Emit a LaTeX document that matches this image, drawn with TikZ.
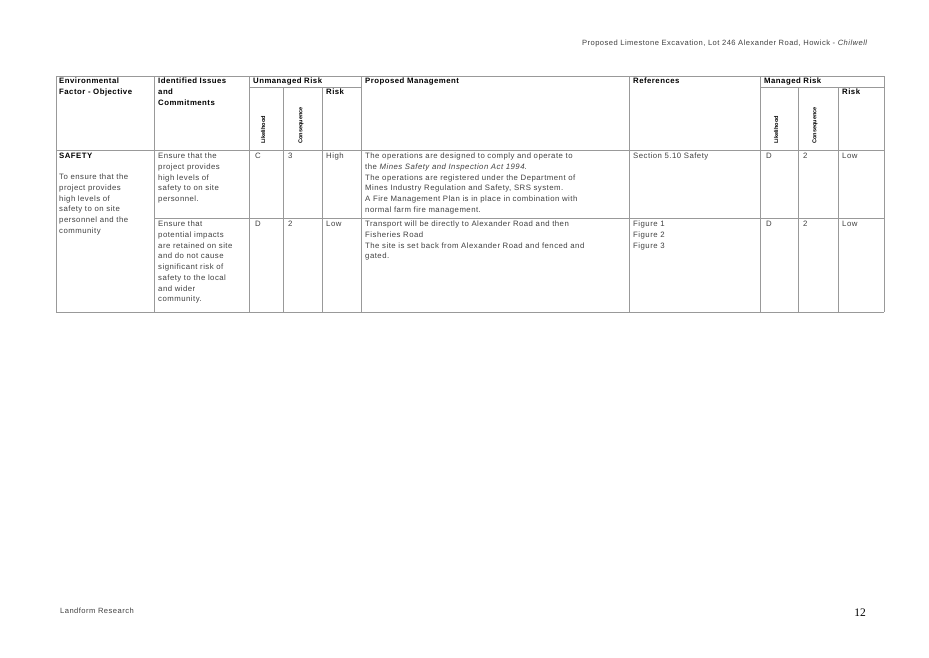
\documentclass[tikz,border=0pt]{standalone}
\usepackage{fontspec}
\setmainfont{Liberation Sans}[LetterSpace=6]
\newfontfamily\serifnum{Liberation Serif}
\begin{document}
\begin{tikzpicture}[x=1pt,y=-1pt,
  grid/.style={draw=gray!80,line width=0.6pt},
  cell/.style={anchor=north west,inner sep=0pt,align=left,font=\fontsize{7.8}{10.7}\selectfont,text=black!75},
  hd/.style={anchor=north west,inner sep=0pt,align=left,font=\fontsize{7.8}{10.7}\selectfont\bfseries},
  rot/.style={rotate=90,anchor=west,inner sep=0pt,font=\fontsize{5.6}{6}\selectfont\bfseries}]
\useasboundingbox (0,0) rectangle (929,657);
% grid
\draw[grid] (56,76) -- (884,76);
\draw[grid] (249,87) -- (361,87);
\draw[grid] (760,87) -- (884,87);
\draw[grid] (56,150) -- (884,150);
\draw[grid] (154,218) -- (884,218);
\draw[grid] (56,312) -- (884,312);
\foreach \x in {56,154,249,361,629,760,884} \draw[grid] (\x,76) -- (\x,312);
\foreach \x in {283,322,798,838} \draw[grid] (\x,87) -- (\x,312);
% header
\node[cell,anchor=north east,font=\fontsize{7.6}{9}\selectfont] (title) at (868,40) {Proposed Limestone Excavation, Lot 246 Alexander Road, Howick - \textit{Chilwell}};
\node[hd] (h1) at (59,78) {Environmental\\Factor - Objective};
\node[hd] (h2) at (158,78) {Identified Issues\\and\\Commitments};
\node[hd] (h3) at (253,78) {Unmanaged Risk};
\node[hd] (h4) at (326,89) {Risk};
\node[hd] (h5) at (365,78) {Proposed Management};
\node[hd] (h6) at (633,78) {References};
\node[hd] (h7) at (764,78) {Managed Risk};
\node[hd] (h8) at (842,89) {Risk};
\node[rot] (l1) at (263,144) {\addfontfeatures{LetterSpace=0}Likelihood};
\node[rot] (c1) at (301,144) {\addfontfeatures{LetterSpace=0}Consequence};
\node[rot] (l2) at (776,144) {\addfontfeatures{LetterSpace=0}Likelihood};
\node[rot] (c2) at (815,144) {\addfontfeatures{LetterSpace=0}Consequence};
% row 1
\node[cell,text=black,font=\fontsize{7.8}{10.7}\selectfont\bfseries] (s) at (59,153) {SAFETY};
\node[cell] (obj) at (59,174) {To ensure that the\\project provides\\high levels of\\safety to on site\\personnel and the\\community};
\node[cell] (i1) at (158,153) {Ensure that the\\project provides\\high levels of\\safety to on site\\personnel.};
\node[cell] (a1) at (255,153) {C};
\node[cell] (b1) at (288,153) {3};
\node[cell] (r1) at (326,153) {High};
\node[cell] (m1) at (365,153) {The operations are designed to comply and operate to\\the \textit{Mines Safety and Inspection Act 1994}.\\The operations are registered under the Department of\\Mines Industry Regulation and Safety, SRS system.\\A Fire Management Plan is in place in combination with\\normal farm fire management.};
\node[cell] (f1) at (633,153) {Section 5.10 Safety};
\node[cell] (a2) at (766,153) {D};
\node[cell] (b2) at (803,153) {2};
\node[cell] (r2) at (842,153) {Low};
% row 2
\node[cell] (i2) at (158,221) {Ensure that\\potential impacts\\are retained on site\\and do not cause\\significant risk of\\safety to the local\\and wider\\community.};
\node[cell] (a3) at (255,221) {D};
\node[cell] (b3) at (288,221) {2};
\node[cell] (r3) at (326,221) {Low};
\node[cell] (m2) at (365,221) {Transport will be directly to Alexander Road and then\\Fisheries Road\\The site is set back from Alexander Road and fenced and\\gated.};
\node[cell] (f2) at (633,221) {Figure 1\\Figure 2\\Figure 3};
\node[cell] (a4) at (766,221) {D};
\node[cell] (b4) at (803,221) {2};
\node[cell] (r4) at (842,221) {Low};
% footer
\node[cell,font=\fontsize{7.6}{9}\selectfont] (foot) at (60,608) {Landform Research};
\node[cell,anchor=north east,font=\serifnum\fontsize{11.5}{12}\selectfont,text=black] (pg) at (866,609) {12};
\end{tikzpicture}
\end{document}
